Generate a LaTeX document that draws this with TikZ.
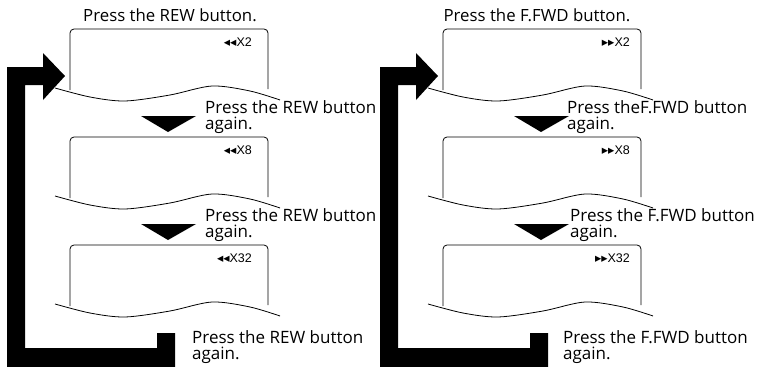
\documentclass[tikz,border=0pt]{standalone}
\usepackage{fontspec}
\newfontfamily\lblfont{Open Sans}
\newfontfamily\indfont{Liberation Sans}
\newfontfamily\symfont{DejaVu Sans}
\tikzset{
  panelbox/.style={draw=black, line width=0.8pt, rounded corners=4pt},
  wavecut/.style={draw=black, line width=0.8pt},
  loopfill/.style={fill=black, draw=none},
  downtri/.style={fill=black, draw=none},
  lbl/.style={font=\lblfont\fontsize{17}{16}\selectfont, align=left, inner sep=0pt, anchor=base west},
  ttl/.style={font=\lblfont\fontsize{16.8}{16}\selectfont, inner sep=0pt, anchor=base},
  ind/.style={font=\indfont\fontsize{12.5}{12.5}\selectfont, inner sep=0pt, anchor=base east}
}
\begin{document}
\begin{tikzpicture}[x=1pt,y=-1pt]
\useasboundingbox (0,0) rectangle (764,367);
\foreach \dx in {0,373} {
  \begin{scope}[xshift=\dx pt]
    \foreach \T in {29,137,245} {
      \draw[panelbox] (70,\T+61) -- (70,\T) -- (268,\T) -- (268,\T+60);
      \draw[wavecut] plot[smooth] coordinates {(55,\T+59) (90,\T+68) (125,\T+72) (170,\T+66) (212,\T+57) (250,\T+62) (280,\T+71)};
    }
    \foreach \T in {29,137} {
      \fill[downtri] (141,\T+87) -- (196,\T+87) -- (168,\T+103) -- cycle;
    }
    \fill[loopfill] (7,67) -- (43,67) -- (43,53) -- (65,76) -- (43,100) -- (43,85)
      -- (25,85) -- (25,348) -- (157,348) -- (157,333) -- (175,333) -- (175,367)
      -- (7,367) -- cycle;
  \end{scope}
}
% left panel texts
\node[ttl] (tL) at (170,21) {Press the REW button.};
\node[lbl] (aL1) at (205,129) {Press the REW button\\again.};
\node[lbl] (aL2) at (205,237) {Press the REW button\\again.};
\node[lbl] (aL3) at (192,359) {Press the REW button\\again.};
\node[ind] (iL1) at (252,46) {{\symfont ◂◂}X2};
\node[ind] (iL2) at (252,154) {{\symfont ◂◂}X8};
\node[ind] (iL3) at (252,262) {{\symfont ◂◂}X32};
% right panel texts
\node[ttl] (tR) at (537,21) {Press the F.FWD button.};
\node[lbl] (aR1) at (567,129) {Press theF.FWD button\\again.};
\node[lbl] (aR2) at (570,237) {Press the F.FWD button\\again.};
\node[lbl] (aR3) at (563,359) {Press the F.FWD button\\again.};
\node[ind] (iR1) at (630,46) {{\symfont ▸▸}X2};
\node[ind] (iR2) at (630,154) {{\symfont ▸▸}X8};
\node[ind] (iR3) at (630,262) {{\symfont ▸▸}X32};
\end{tikzpicture}
\end{document}
